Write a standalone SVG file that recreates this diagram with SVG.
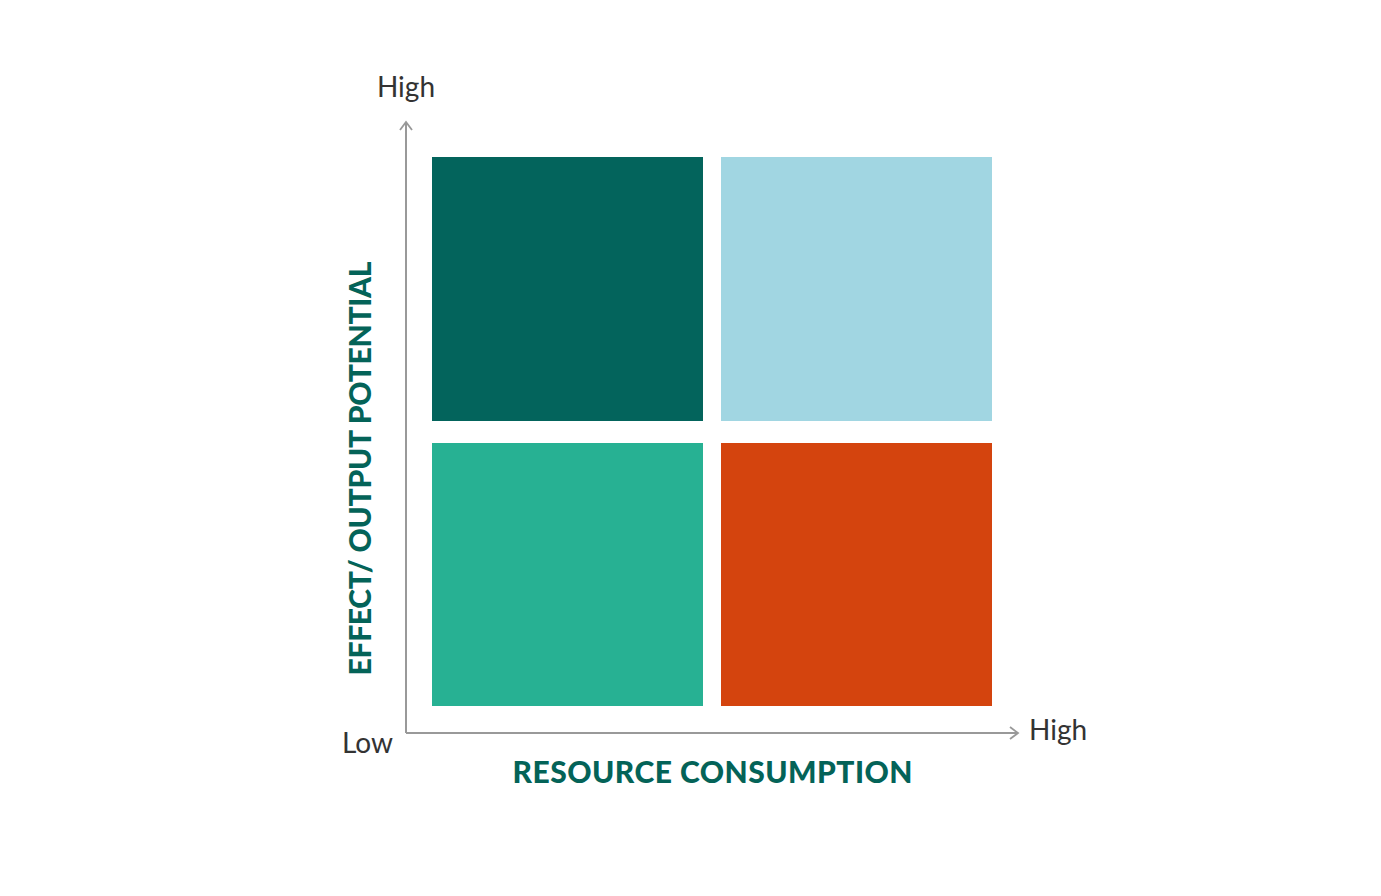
<svg xmlns="http://www.w3.org/2000/svg" width="1381" height="896" viewBox="0 0 1381 896">
<style>
.tick{font-family:Lato,"Open Sans",sans-serif;font-size:28px;fill:#333}
.ax{font-family:Lato,"Open Sans",sans-serif;font-size:30px;font-weight:900;fill:#046358;letter-spacing:1px}
.axis{stroke:#999;stroke-width:2;fill:none}
</style>
<defs>
<marker id="arr" markerWidth="14" markerHeight="14" refX="11" refY="7" orient="auto" markerUnits="userSpaceOnUse">
<path d="M3,1 L11,7 L3,13" fill="none" stroke="#999" stroke-width="1.8"/>
</marker>
</defs>
<rect width="1381" height="896" fill="#fff"/>
<g id="q-top-left"><rect x="432" y="157" width="271" height="264" fill="#03645C"/></g>
<g id="q-top-right"><rect x="721" y="157" width="271" height="264" fill="#A1D6E2"/></g>
<g id="q-bottom-left"><rect x="432" y="443" width="271" height="263" fill="#27B193"/></g>
<g id="q-bottom-right"><rect x="721" y="443" width="271" height="263" fill="#D4440E"/></g>
<g id="connectors">
<path class="axis" d="M406,733 L406,122" marker-end="url(#arr)"/>
<path class="axis" d="M406,733 L1018,733" marker-end="url(#arr)"/>
</g>
<g id="labels">
<text class="tick" x="406" y="97" text-anchor="middle">High</text>
<text class="tick" x="342" y="753">Low</text>
<text class="tick" x="1029" y="740">High</text>
<text class="ax" x="713" y="783" text-anchor="middle" textLength="401">RESOURCE CONSUMPTION</text>
<text class="ax" transform="translate(371,468) rotate(-90)" x="0" y="0" text-anchor="middle" textLength="415">EFFECT/ OUTPUT POTENTIAL</text>
</g>
</svg>
